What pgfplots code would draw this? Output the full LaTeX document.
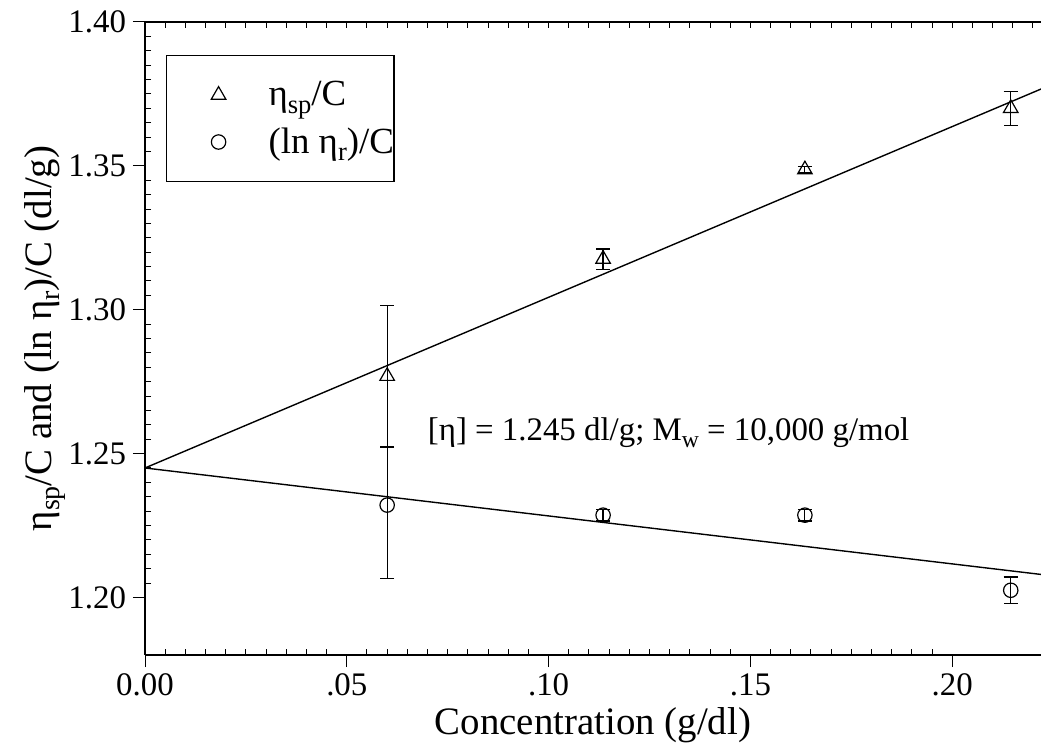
\documentclass[border=0pt]{standalone}
\usepackage{fontspec}
\setmainfont{Liberation Serif}
\usepackage{pgfplots}
\pgfplotsset{compat=1.18}
\newcommand{\sub}[1]{\raisebox{-0.45ex}{\scalebox{0.72}{#1}}}
\begin{document}
\begin{tikzpicture}
\begin{axis}[
  scale only axis,
  width=448bp, height=316.5bp,
  xmin=0, xmax=0.222, ymin=1.18, ymax=1.40,
  axis x line*=top, axis y line=none,
  xtick={0,0.005,...,0.2201},
  xticklabels={},
  ytick=\empty,
  tick align=inside,
  major tick length=3bp,
  tick style={black, line width=0.5pt},
  axis line style={black, line width=0.6pt},
]
\end{axis}
\begin{axis}[
  scale only axis,
  width=448bp, height=316.5bp,
  xmin=0, xmax=0.222, ymin=1.18, ymax=1.40,
  axis x line*=bottom, axis y line*=left,
  xtick={0,0.05,0.1,0.15,0.2},
  xticklabels={0.00,.05,.10,.15,.20},
  ytick={1.20,1.25,1.30,1.35,1.40},
  yticklabels={1.20,1.25,1.30,1.35,1.40},
  minor tick num=9,
  tick align=outside,
  major tick length=6bp,
  minor tick length=-3bp,
  tick style={black, line width=0.5pt},
  axis line style={black, line width=0.6pt},
  tick label style={font=\fontsize{16.5}{19}\selectfont},
  xlabel={Concentration (g/dl)},
  ylabel={η\sub{sp}/C and (ln η\sub{r})/C (dl/g)},
  label style={font=\fontsize{19.5}{24}\selectfont},
  xlabel style={at={(axis description cs:0.5,-0.1106)}, anchor=center},
  ylabel style={at={(axis description cs:-0.1116,0.5)}, anchor=center},
  legend cell align=left,
  legend style={at={(rel axis cs:0.0234,0.948)}, anchor=north west,
    draw=black, line width=0.6pt, font=\fontsize{18.5}{22}\selectfont,
    inner xsep=0pt, inner ysep=8bp, row sep=0pt, column sep=0pt,
    nodes={inner sep=0pt}},
  legend image code/.code={
    \path[draw=none, fill=none] (-26bp,-11.75bp) rectangle (25bp,11.75bp);
    \draw[#1] plot coordinates {(0,0)};
  },
  clip=false,
]
\addplot[black, line width=0.7pt, forget plot] coordinates {(0,1.245) (0.222,1.3767)};
\addplot[black, line width=0.7pt, forget plot] coordinates {(0,1.245) (0.222,1.2080)};
\addplot[only marks, black, mark=triangle, mark size=4.2bp,
  mark options={fill=white, line width=0.6pt},
  error bars/.cd, y dir=both, y explicit,
  error bar style={line width=0.6pt},
  error mark options={rotate=90, mark size=3.5bp, line width=0.6pt}]
  coordinates {
  (0.0600,1.2769) +- (0,0.0246)
  (0.1135,1.3176) +- (0,0.0035)
  (0.1635,1.3487) +- (0,0.0010)
  (0.2145,1.3700) +- (0,0.0059)
  };
\addlegendentry{η\sub{sp}/C}
\addplot[only marks, black, mark=o, mark size=3.6bp,
  mark options={fill=white, line width=0.6pt},
  error bars/.cd, y dir=both, y explicit,
  error bar style={line width=0.6pt},
  error mark options={rotate=90, mark size=3.5bp, line width=0.6pt}]
  coordinates {
  (0.0600,1.2321) += (0,0.0202) -= (0,0.0255)
  (0.1135,1.2286) +- (0,0.0020)
  (0.1635,1.2286) +- (0,0.0020)
  (0.2145,1.2025) +- (0,0.0046)
  };
\addlegendentry{(ln η\sub{r})/C\hspace{10bp}}
\node[anchor=west, inner sep=0pt, font=\fontsize{16.5}{19}\selectfont]
  at (axis cs:0.070,1.2573) {[η] = 1.245 dl/g; M\sub{w} = 10,000 g/mol};
\coordinate (SW) at (rel axis cs:0,0);
\coordinate (NE) at (rel axis cs:1,1);
\end{axis}
\pgfresetboundingbox
\path[use as bounding box] ([xshift=-72.5bp,yshift=-45.5bp]SW) rectangle ([yshift=11bp]NE);
\end{tikzpicture}
\end{document}
